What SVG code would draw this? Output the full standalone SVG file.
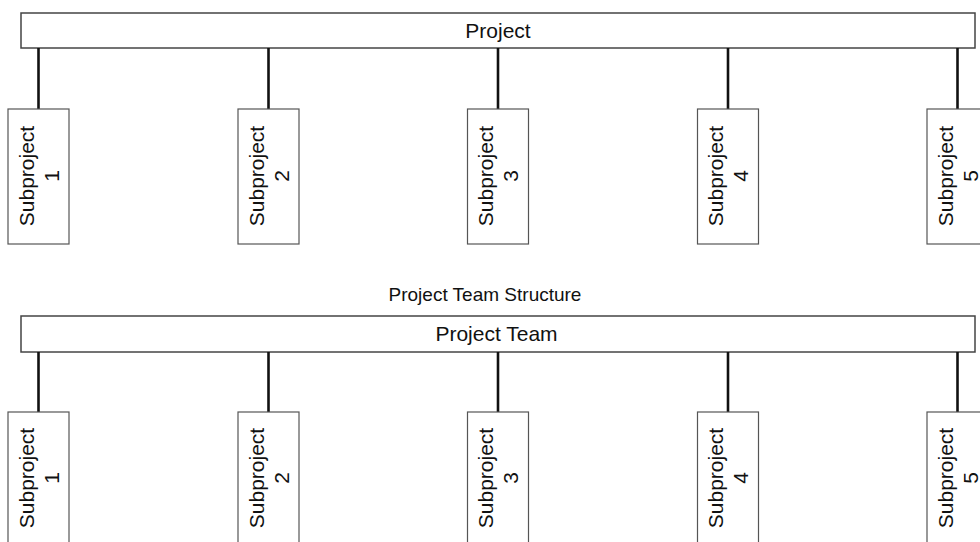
<svg xmlns="http://www.w3.org/2000/svg" width="980" height="542" viewBox="0 0 980 542">
<style>
.bar{fill:#fff;stroke:#444;stroke-width:1.5}
.box{fill:#fff;stroke:#555;stroke-width:1.2}
.conn line{stroke:#111;stroke-width:2.6}
text{font-family:"Liberation Sans",Arial,sans-serif;font-size:21px;fill:#111;text-anchor:middle}
.title{font-size:19px}
</style>
<rect width="980" height="542" fill="#fff"/>
<g id="project"><rect class="bar" x="21" y="13" width="954" height="35"/><text x="498" y="38">Project</text></g>
<g class="conn" id="connectors-top">
<line x1="38.5" y1="48" x2="38.5" y2="109"/>
<line x1="268.5" y1="48" x2="268.5" y2="109"/>
<line x1="498" y1="48" x2="498" y2="109"/>
<line x1="728" y1="48" x2="728" y2="109"/>
<line x1="957.5" y1="48" x2="957.5" y2="109"/>
</g>
<g id="sp1-top"><rect class="box" x="8" y="109" width="61" height="135"/><text transform="translate(38.5,176) rotate(-90)"><tspan x="0" y="-5">Subproject</tspan><tspan x="0" y="20">1</tspan></text></g>
<g id="sp2-top"><rect class="box" x="238" y="109" width="61" height="135"/><text transform="translate(268.5,176) rotate(-90)"><tspan x="0" y="-5">Subproject</tspan><tspan x="0" y="20">2</tspan></text></g>
<g id="sp3-top"><rect class="box" x="467.5" y="109" width="61" height="135"/><text transform="translate(498,176) rotate(-90)"><tspan x="0" y="-5">Subproject</tspan><tspan x="0" y="20">3</tspan></text></g>
<g id="sp4-top"><rect class="box" x="697.5" y="109" width="61" height="135"/><text transform="translate(728,176) rotate(-90)"><tspan x="0" y="-5">Subproject</tspan><tspan x="0" y="20">4</tspan></text></g>
<g id="sp5-top"><rect class="box" x="927" y="109" width="61" height="135"/><text transform="translate(957.5,176) rotate(-90)"><tspan x="0" y="-5">Subproject</tspan><tspan x="0" y="20">5</tspan></text></g>
<text class="title" x="485" y="301">Project Team Structure</text>
<g id="project-team"><rect class="bar" x="21" y="316" width="954" height="36"/><text x="496.5" y="341">Project Team</text></g>
<g class="conn" id="connectors-bottom">
<line x1="38.5" y1="352" x2="38.5" y2="412"/>
<line x1="268.5" y1="352" x2="268.5" y2="412"/>
<line x1="498" y1="352" x2="498" y2="412"/>
<line x1="728" y1="352" x2="728" y2="412"/>
<line x1="957.5" y1="352" x2="957.5" y2="412"/>
</g>
<g id="sp1-bottom"><rect class="box" x="8" y="412" width="61" height="135"/><text transform="translate(38.5,478) rotate(-90)"><tspan x="0" y="-5">Subproject</tspan><tspan x="0" y="20">1</tspan></text></g>
<g id="sp2-bottom"><rect class="box" x="238" y="412" width="61" height="135"/><text transform="translate(268.5,478) rotate(-90)"><tspan x="0" y="-5">Subproject</tspan><tspan x="0" y="20">2</tspan></text></g>
<g id="sp3-bottom"><rect class="box" x="467.5" y="412" width="61" height="135"/><text transform="translate(498,478) rotate(-90)"><tspan x="0" y="-5">Subproject</tspan><tspan x="0" y="20">3</tspan></text></g>
<g id="sp4-bottom"><rect class="box" x="697.5" y="412" width="61" height="135"/><text transform="translate(728,478) rotate(-90)"><tspan x="0" y="-5">Subproject</tspan><tspan x="0" y="20">4</tspan></text></g>
<g id="sp5-bottom"><rect class="box" x="927" y="412" width="61" height="135"/><text transform="translate(957.5,478) rotate(-90)"><tspan x="0" y="-5">Subproject</tspan><tspan x="0" y="20">5</tspan></text></g>
</svg>
